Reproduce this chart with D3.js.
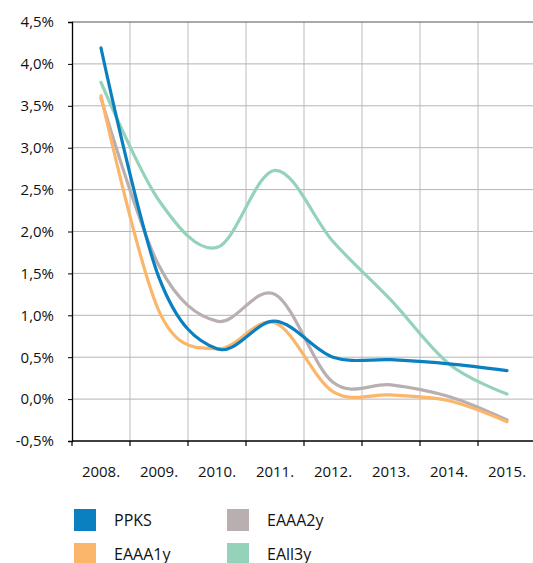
<!DOCTYPE html>
<html>
<head>
<meta charset="utf-8">
<script src="https://cdn.jsdelivr.net/npm/d3@7"></script>
<style>
  html, body { margin: 0; padding: 0; background: #fff; }
  svg { display: block; font-family: "Open Sans", "Noto Sans", sans-serif; }
</style>
</head>
<body>
<svg id="chart" width="533" height="563"></svg>
<script>
// Years on the x axis
const years = ["2008.", "2009.", "2010.", "2011.", "2012.", "2013.", "2014.", "2015."];

// Interest rates, % per year
const ppks  = [4.19, 1.45, 0.60, 0.93, 0.50, 0.47, 0.42, 0.34];
const eaaa1y = [3.62, 1.05, 0.60, 0.91, 0.09, 0.05, -0.02, -0.27];
const eaaa2y = [3.59, 1.59, 0.93, 1.25, 0.20, 0.17, 0.03, -0.25];
const eaii3y = [3.78, 2.37, 1.81, 2.73, 1.88, 1.18, 0.42, 0.06];

// Y axis ticks
const yTicks = [-0.5, 0, 0.5, 1, 1.5, 2, 2.5, 3, 3.5, 4, 4.5];

const series = [
  { name: "EAll3y", values: eaii3y, color: "#94d3ba" },
  { name: "EAAA2y", values: eaaa2y, color: "#b9aeb0" },
  { name: "EAAA1y", values: eaaa1y, color: "#fbb66b" },
  { name: "PPKS",   values: ppks,   color: "#0a80c0" }
];

const legendItems = [
  { name: "PPKS",   color: "#0a80c0", col: 0, row: 0 },
  { name: "EAAA2y", color: "#b9aeb0", col: 1, row: 0 },
  { name: "EAAA1y", color: "#fbb66b", col: 0, row: 1 },
  { name: "EAll3y", color: "#94d3ba", col: 1, row: 1 }
];

const svg = d3.select("#chart");
const plotLeft = 72, plotRight = 536, plotTop = 22, plotBottom = 441;

const x = d3.scaleBand().domain(years).range([plotLeft, plotRight]);
const y = d3.scaleLinear().domain([-0.5, 4.5]).range([plotBottom, plotTop]);

const fmt = v => d3.format(".1f")(v).replace(".", ",").replace("−", "-") + "%";

// Vertical grid lines at band boundaries
svg.append("g")
  .selectAll("line")
  .data(years.slice(1))
  .join("line")
  .attr("x1", d => x(d)).attr("x2", d => x(d))
  .attr("y1", plotTop).attr("y2", plotBottom)
  .attr("stroke", "#c8c8c8").attr("stroke-width", 1.2);

// Horizontal grid lines
svg.append("g")
  .selectAll("line")
  .data(yTicks.filter(v => v > -0.5 && v < 4.5))
  .join("line")
  .attr("x1", plotLeft).attr("x2", 533)
  .attr("y1", d => y(d)).attr("y2", d => y(d))
  .attr("stroke", "#b4b4b4").attr("stroke-width", 1);

// Top border
svg.append("line")
  .attr("x1", plotLeft).attr("x2", 533)
  .attr("y1", y(4.5)).attr("y2", y(4.5))
  .attr("stroke", "#555").attr("stroke-width", 1.2);

// Y axis
const yAxis = d3.axisLeft(y).tickValues(yTicks).tickFormat(fmt).tickSize(4).tickPadding(14);
const gy = svg.append("g").attr("transform", `translate(${plotLeft},0)`).call(yAxis);
gy.select(".domain").attr("stroke", "#000").attr("stroke-width", 1.3);
gy.selectAll(".tick line").attr("stroke", "#000");
gy.selectAll("text").attr("font-size", 15).attr("fill", "#111")
  .attr("font-family", "'Open Sans', 'Noto Sans', sans-serif");

// X axis: ticks at band boundaries, labels centred in bands
const xAxisG = svg.append("g").attr("transform", `translate(0,${plotBottom})`);
xAxisG.append("line").attr("x1", plotLeft).attr("x2", 533).attr("y1", 0).attr("y2", 0)
  .attr("stroke", "#000").attr("stroke-width", 1.3);
xAxisG.selectAll("line.tk")
  .data(years)
  .join("line").attr("class", "tk")
  .attr("x1", d => x(d)).attr("x2", d => x(d))
  .attr("y1", 0).attr("y2", 5)
  .attr("stroke", "#000").attr("stroke-width", 1.2);
xAxisG.selectAll("text")
  .data(years)
  .join("text")
  .attr("x", d => x(d) + x.bandwidth() / 2)
  .attr("y", 36)
  .attr("text-anchor", "middle")
  .attr("font-size", 15).attr("fill", "#111")
  .text(d => d);

// Smoothed series lines through band centres
const line = d3.line()
  .x((d, i) => x(years[i]) + x.bandwidth() / 2)
  .y(d => y(d))
  .curve(d3.curveCardinal.tension(0));

svg.append("g")
  .selectAll("path")
  .data(series)
  .join("path")
  .attr("d", d => line(d.values))
  .attr("fill", "none")
  .attr("stroke", d => d.color)
  .attr("stroke-width", 3.2)
  .attr("stroke-linecap", "round")
  .attr("stroke-linejoin", "round");

// Legend
const lg = svg.append("g");
const items = lg.selectAll("g")
  .data(legendItems)
  .join("g")
  .attr("transform", d => `translate(${74 + d.col * 153},${509 + d.row * 34})`);
items.append("rect").attr("width", 22).attr("height", 22).attr("fill", d => d.color);
items.append("text")
  .attr("x", 40).attr("y", 16.5)
  .attr("font-size", 16).attr("fill", "#111")
  .text(d => d.name);
</script>
</body>
</html>
